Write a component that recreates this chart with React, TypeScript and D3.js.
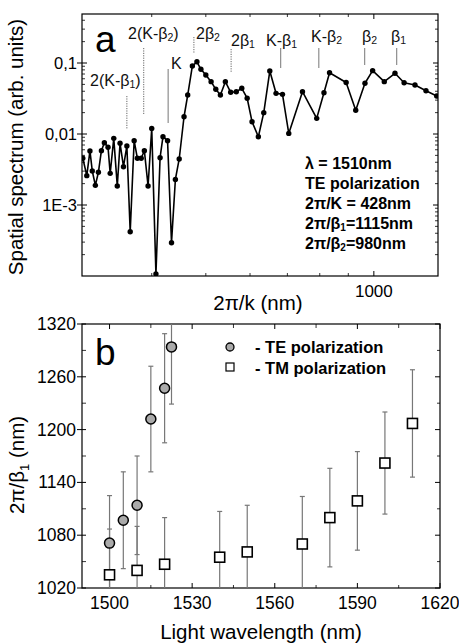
import React from "react";
import * as d3 from "d3";

// ---------- Panel a data: spatial spectrum ----------
const spectrumPeriod = [301, 306, 310, 313, 317, 321, 325, 329, 334, 337, 342, 347, 351, 356, 361, 366, 372, 377, 383, 388, 394, 400, 407, 414, 419, 427, 434, 441, 448, 457, 464, 473, 482, 490, 500, 511, 521, 531, 542, 554, 567, 580, 593, 605, 621, 635, 651, 668, 686, 704, 745, 790, 814, 833, 892, 928, 964, 995, 1044, 1091, 1133, 1185, 1240, 1296];
const spectrumAmp = [0.00455, 0.00259, 0.00577, 0.00301, 0.00189, 0.00289, 0.00582, 0.00754, 0.0065, 0.00279, 0.00869, 0.00185, 0.0074, 0.00346, 0.00678, 0.000421, 0.00805, 0.00455, 0.00455, 0.00582, 0.00185, 0.012, 0.000107, 0.00464, 0.00916, 0.00805, 0.000294, 0.00229, 0.00445, 0.0175, 0.0354, 0.0908, 0.104, 0.0815, 0.0678, 0.0546, 0.0426, 0.0354, 0.0546, 0.0387, 0.0394, 0.044, 0.0319, 0.0149, 0.00916, 0.02, 0.0771, 0.0374, 0.0362, 0.0102, 0.0394, 0.0166, 0.0382, 0.073, 0.0531, 0.0216, 0.0518, 0.078, 0.0546, 0.0716, 0.0528, 0.049, 0.0407, 0.0343];

// marker annotations: [main text, subscript, trailing text]
const markerNames = [["2(K-β", "1", ")"], ["2(K-β", "2", ")"], ["K", "", ""], ["2β", "2", ""], ["2β", "1", ""], ["K-β", "1", ""], ["K-β", "2", ""], ["β", "2", ""], ["β", "1", ""]];
const markerPeriods = [361, 387, 428, 476, 555, 681, 797, 963, 1099];

const yTicksA = [0.1, 0.01, 0.001];
const yTickLabelsA = ["0,1", "0,01", "1E-3"];
const xTicksA = [1000];
const xMinorTicksA = [400, 500, 600, 700, 800, 900];

// ---------- Panel b data ----------
const teWavelength = [1500, 1505, 1510, 1515, 1520, 1522.5];
const teValue = [1071, 1097, 1114, 1212, 1247, 1294];
const teError = [54, 55, 56, 60, 62, 65];
const tmWavelength = [1500, 1510, 1520, 1540, 1550, 1570, 1580, 1590, 1600, 1610];
const tmValue = [1035, 1040, 1047, 1055, 1061, 1070, 1100, 1119, 1162, 1207];
const tmError = [52, 50, 53, 52, 53, 54, 56, 56, 58, 61];

const xTicksB = [1500, 1530, 1560, 1590, 1620];
const xMinorB = [1515, 1545, 1575, 1605];
const yTicksB = [1020, 1080, 1140, 1200, 1260, 1320];
const yMinorB = [1050, 1110, 1170, 1230, 1290];

const FONT = "'Liberation Sans', Arial, Helvetica, sans-serif";

export default function App() {
  // panel a geometry
  const aL = 82, aR = 438, aT = 14, aB = 276;
  const xA = d3.scaleLog().domain([300, 1303]).range([aL, aR]);
  const yA = d3.scaleLog().domain([1e-4, 0.49]).range([aB, aT]);
  const pts = spectrumPeriod.map((p, i) => [xA(p), yA(spectrumAmp[i])] as [number, number]);
  const lineGen = d3.line();

  const yMinorA: number[] = [];
  for (const dec of [1e-4, 1e-3, 1e-2, 1e-1]) {
    for (let m = 2; m <= 9; m++) {
      const v = dec * m;
      if (v < 0.49) yMinorA.push(v);
    }
  }

  // marker layout (positions only)
  const markerLayout = [
    { y1: 96, y2: 129, lx: 90, ly: 80 },
    { y1: 48, y2: 114, lx: 128, ly: 33 },
    { y1: 69, y2: 123, lx: 171, ly: 63 },
    { y1: 37, y2: 53, lx: 196, ly: 33 },
    { y1: 49, y2: 73, lx: 231, ly: 40 },
    { y1: 48, y2: 68, lx: 266, ly: 40 },
    { y1: 48, y2: 68, lx: 311, ly: 36 },
    { y1: 48, y2: 65, lx: 362, ly: 36 },
    { y1: 48, y2: 65, lx: 391, ly: 36 },
  ];

  // panel b geometry
  const bL = 82, bR = 440, bT = 324, bB = 588;
  const xB = d3.scaleLinear().domain([1490, 1620]).range([bL, bR]);
  const yB = d3.scaleLinear().domain([1020, 1320]).range([bB, bT]);
  const clampY = (v: number) => Math.max(bT, Math.min(bB, yB(v)));

  const errColor = "#777";

  const errBar = (x: number, v: number, e: number, key: string) => {
    const top = yB(v + e), bot = yB(v - e);
    return (
      <g key={key} stroke={errColor} strokeWidth={1.2}>
        <line x1={x} x2={x} y1={clampY(v + e)} y2={clampY(v - e)} />
        {top >= bT && <line x1={x - 2.5} x2={x + 2.5} y1={top} y2={top} />}
        {bot <= bB && <line x1={x - 2.5} x2={x + 2.5} y1={bot} y2={bot} />}
      </g>
    );
  };

  return (
    <svg width={459} height={644} style={{ position: "absolute", left: 0, top: 0, background: "#fff" }} fontFamily={FONT}>
      <rect x={0} y={0} width={459} height={644} fill="#fff" />
      <defs>
        <clipPath id="clipA"><rect x={aL} y={aT} width={aR - aL} height={aB - aT} /></clipPath>
        <clipPath id="clipB"><rect x={bL} y={bT} width={bR - bL} height={bB - bT} /></clipPath>
      </defs>

      {/* ================= Panel a ================= */}
      <rect x={aL} y={aT} width={aR - aL} height={aB - aT} fill="none" stroke="#000" strokeWidth={1.2} />
      {yTicksA.map((t, i) => (
        <g key={"ya" + i}>
          <line x1={aL - 5} x2={aL + 5} y1={yA(t)} y2={yA(t)} stroke="#000" strokeWidth={1} />
          <line x1={aR - 5} x2={aR} y1={yA(t)} y2={yA(t)} stroke="#000" strokeWidth={1} />
          <text x={77} y={yA(t)} textAnchor="end" dominantBaseline="central" fontSize={16.5}>{yTickLabelsA[i]}</text>
        </g>
      ))}
      {yMinorA.map((t, i) => (
        <g key={"yma" + i} stroke="#000" strokeWidth={0.8}>
          <line x1={aL} x2={aL + 3} y1={yA(t)} y2={yA(t)} />
          <line x1={aR - 3} x2={aR} y1={yA(t)} y2={yA(t)} />
        </g>
      ))}
      {xTicksA.map((t, i) => (
        <g key={"xa" + i}>
          <line x1={xA(t)} x2={xA(t)} y1={aB} y2={aB - 5} stroke="#000" />
          <line x1={xA(t)} x2={xA(t)} y1={aT} y2={aT + 5} stroke="#000" />
          <text x={xA(t)} y={297} textAnchor="middle" fontSize={17}>{t}</text>
        </g>
      ))}
      {xMinorTicksA.map((t, i) => (
        <g key={"xma" + i} stroke="#000" strokeWidth={0.8}>
          <line x1={xA(t)} x2={xA(t)} y1={aB} y2={aB - 3} />
          <line x1={xA(t)} x2={xA(t)} y1={aT} y2={aT + 3} />
        </g>
      ))}

      {/* marker lines */}
      {markerNames.map((n, i) => {
        const dotted = n[0].startsWith("2");
        const L = markerLayout[i];
        const x = xA(markerPeriods[i]);
        return (
          <g key={"mk" + i}>
            <line x1={x} x2={x} y1={L.y1} y2={L.y2} stroke={dotted ? "#666" : "#777"} strokeWidth={1} strokeDasharray={dotted ? "1.2,1.2" : undefined} />
            <text x={L.lx} y={L.ly} dominantBaseline="central" fontSize={16} fill="#111">
              {n[0]}
              {n[1] && <tspan fontSize={10.5} dy={4}>{n[1]}</tspan>}
              {n[2] && <tspan dy={-4}>{n[2]}</tspan>}
            </text>
          </g>
        );
      })}

      <g clipPath="url(#clipA)">
        <path d={lineGen(pts) || ""} fill="none" stroke="#000" strokeWidth={1.6} strokeLinejoin="round" />
        {pts.map((p, i) => (
          <circle key={"pa" + i} cx={p[0]} cy={p[1]} r={2.7} fill="#000" />
        ))}
      </g>

      <text x={95} y={52} fontSize={37}>a</text>

      <g fontSize={16} fontWeight="bold">
        <text x={305} y={163} dominantBaseline="central">λ = 1510nm</text>
        <text x={305} y={183} dominantBaseline="central">TE polarization</text>
        <text x={305} y={203} dominantBaseline="central">2π/K = 428nm</text>
        <text x={305} y={223} dominantBaseline="central">2π/β<tspan fontSize={10} dy={4}>1</tspan><tspan dy={-4}>=1115nm</tspan></text>
        <text x={305} y={243} dominantBaseline="central">2π/β<tspan fontSize={10} dy={4}>2</tspan><tspan dy={-4}>=980nm</tspan></text>
      </g>

      <text transform="translate(23,147) rotate(-90)" textAnchor="middle" fontSize={20.5}>Spatial spectrum (arb. units)</text>
      <text x={258} y={310} textAnchor="middle" fontSize={20.5}>2π/k (nm)</text>

      {/* ================= Panel b ================= */}
      <rect x={bL} y={bT} width={bR - bL} height={bB - bT} fill="none" stroke="#000" strokeWidth={1.2} />
      {yTicksB.map((t, i) => (
        <g key={"yb" + i}>
          <line x1={bL - 5} x2={bL + 4} y1={yB(t)} y2={yB(t)} stroke="#000" />
          <line x1={bR - 5} x2={bR} y1={yB(t)} y2={yB(t)} stroke="#000" />
          <text x={76} y={yB(t)} textAnchor="end" dominantBaseline="central" fontSize={17.5}>{t}</text>
        </g>
      ))}
      {yMinorB.map((t, i) => (
        <g key={"ymb" + i} stroke="#000" strokeWidth={0.8}>
          <line x1={bL} x2={bL + 4} y1={yB(t)} y2={yB(t)} />
          <line x1={bR - 3} x2={bR} y1={yB(t)} y2={yB(t)} />
        </g>
      ))}
      {xTicksB.map((t, i) => (
        <g key={"xb" + i}>
          <line x1={xB(t)} x2={xB(t)} y1={bB} y2={bB - 5} stroke="#000" />
          <line x1={xB(t)} x2={xB(t)} y1={bT} y2={bT + 5} stroke="#000" />
          <text x={xB(t)} y={609} textAnchor="middle" fontSize={17.5}>{t}</text>
        </g>
      ))}
      {xMinorB.map((t, i) => (
        <g key={"xmb" + i} stroke="#000" strokeWidth={0.8}>
          <line x1={xB(t)} x2={xB(t)} y1={bB} y2={bB - 3} />
          <line x1={xB(t)} x2={xB(t)} y1={bT} y2={bT + 4} />
        </g>
      ))}

      <g clipPath="url(#clipB)">
        {teWavelength.map((w, i) => errBar(xB(w), teValue[i], teError[i], "te" + i))}
        {tmWavelength.map((w, i) => errBar(xB(w), tmValue[i], tmError[i], "tm" + i))}
        {tmWavelength.map((w, i) => (
          <rect key={"tms" + i} x={xB(w) - 5} y={yB(tmValue[i]) - 5} width={10} height={10} fill="#fff" stroke="#000" strokeWidth={1.6} />
        ))}
        {teWavelength.map((w, i) => (
          <circle key={"tec" + i} cx={xB(w)} cy={yB(teValue[i])} r={5} fill="#aaa" stroke="#000" strokeWidth={1.5} />
        ))}
      </g>

      <text x={95} y={365} fontSize={37}>b</text>

      <circle cx={230} cy={347} r={4} fill="#aaa" stroke="#000" strokeWidth={1.3} />
      <rect x={226} y={363} width={8} height={8} fill="#fff" stroke="#000" strokeWidth={1.2} />
      <g fontSize={16.5} fontWeight="bold">
        <text x={255} y={347} dominantBaseline="central">- TE polarization</text>
        <text x={255} y={368} dominantBaseline="central">- TM polarization</text>
      </g>

      <text transform="translate(24,465) rotate(-90)" textAnchor="middle" fontSize={20.5}>
        2π/β<tspan fontSize={13} dy={5}>1</tspan><tspan dy={-5}> (nm)</tspan>
      </text>
      <text x={261} y={639} textAnchor="middle" fontSize={20.5}>Light wavelength (nm)</text>
    </svg>
  );
}
